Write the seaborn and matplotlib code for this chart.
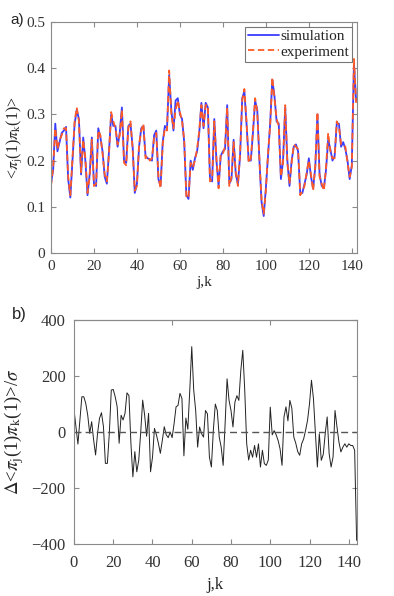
import numpy as np
import pandas as pd
import matplotlib
matplotlib.use("Agg")
import matplotlib.pyplot as plt
import seaborn as sns

# ---------------- data ----------------
sim_a = [0.15, 0.18, 0.28, 0.22, 0.24, 0.26, 0.265, 0.273, 0.16, 0.12,
         0.20, 0.28, 0.31, 0.29, 0.17, 0.25, 0.20, 0.125, 0.17, 0.25,
         0.15, 0.145, 0.27, 0.25, 0.22, 0.165, 0.15, 0.22, 0.30, 0.275,
         0.275, 0.23, 0.26, 0.315, 0.20, 0.195, 0.275, 0.28, 0.23, 0.13,
         0.15, 0.23, 0.27, 0.275, 0.21, 0.205, 0.203, 0.20, 0.255, 0.265,
         0.16, 0.145, 0.24, 0.275, 0.27, 0.385, 0.31, 0.265, 0.33, 0.335,
         0.30, 0.29, 0.24, 0.125, 0.117, 0.20, 0.18, 0.205, 0.22, 0.26,
         0.325, 0.27, 0.325, 0.315, 0.16, 0.155, 0.29, 0.20, 0.145, 0.21,
         0.22, 0.225, 0.32, 0.15, 0.16, 0.245, 0.17, 0.15, 0.21, 0.335,
         0.35, 0.28, 0.20, 0.20, 0.26, 0.33, 0.31, 0.20, 0.11, 0.08,
         0.14, 0.21, 0.28, 0.375, 0.34, 0.285, 0.28, 0.16, 0.20, 0.315,
         0.20, 0.145, 0.20, 0.23, 0.235, 0.22, 0.13, 0.13, 0.15, 0.17,
         0.205, 0.165, 0.14, 0.185, 0.30, 0.17, 0.145, 0.14, 0.18, 0.245,
         0.225, 0.20, 0.21, 0.28, 0.28, 0.23, 0.24, 0.225, 0.20, 0.16,
         0.19, 0.41, 0.33]
exp_a = [0.145, 0.185, 0.27, 0.225, 0.245, 0.255, 0.27, 0.27, 0.165, 0.125,
         0.205, 0.285, 0.315, 0.285, 0.175, 0.245, 0.205, 0.13, 0.165, 0.245,
         0.145, 0.15, 0.265, 0.255, 0.215, 0.17, 0.155, 0.215, 0.305, 0.285,
         0.27, 0.235, 0.255, 0.31, 0.195, 0.19, 0.27, 0.285, 0.225, 0.135,
         0.145, 0.235, 0.265, 0.28, 0.205, 0.21, 0.20, 0.205, 0.25, 0.26,
         0.165, 0.14, 0.235, 0.27, 0.265, 0.395, 0.30, 0.27, 0.31, 0.33,
         0.305, 0.285, 0.245, 0.12, 0.12, 0.195, 0.185, 0.20, 0.225, 0.265,
         0.32, 0.275, 0.32, 0.32, 0.155, 0.16, 0.285, 0.205, 0.14, 0.215,
         0.215, 0.23, 0.315, 0.145, 0.165, 0.24, 0.175, 0.145, 0.215, 0.33,
         0.355, 0.285, 0.195, 0.205, 0.265, 0.335, 0.305, 0.205, 0.115, 0.085,
         0.135, 0.215, 0.275, 0.38, 0.335, 0.29, 0.275, 0.165, 0.195, 0.32,
         0.195, 0.15, 0.195, 0.235, 0.23, 0.225, 0.125, 0.135, 0.145, 0.175,
         0.20, 0.17, 0.135, 0.19, 0.305, 0.165, 0.15, 0.135, 0.185, 0.26,
         0.22, 0.205, 0.205, 0.285, 0.275, 0.235, 0.235, 0.23, 0.195, 0.165,
         0.185, 0.42, 0.325]

dev_b = [80, 20, -43, 43, 126, 126, 102, 60, -5, 37,
         -28, -82, -5, 49, 69, 20, -112, -112, -5, 150,
         152, 126, 90, -40, 60, 43, 67, 140, 130, -40,
         -160, -70, -142, -100, 0, 114, 60, -15, 67, -142,
         -90, 13, -10, -40, -76, -30, 19, -10, -20, 0,
         -20, 30, 90, 95, 138, 120, -85, 50, 10, 150,
         305, 150, 77, -54, 18, -6, -18, 77, 65, -90,
         -125, 6, 100, 77, -18, -54, -119, 30, 190, 113,
         77, 18, 107, 130, 113, 220, 292, 149, -42, -100,
         -65, -90, -48, -90, -42, -125, -65, -113, -119, -100,
         89, -10, 5, -10, -30, -60, -119, 54, 90, 40,
         113, 85, -18, -40, -70, -83, -42, -25, 6, 42,
         101, 185, 120, 0, -125, -6, -101, -80, -6, 54,
         -77, -125, -89, 77, 18, -36, -71, -54, -42, -54,
         -42, -48, -48, -65, -387]

jk_a = list(range(len(sim_a)))
jk_b = list(range(len(dev_b)))

df_a = pd.DataFrame({"jk": jk_a + jk_a,
                     "val": sim_a + exp_a,
                     "series": ["simulation"] * len(sim_a) + ["experiment"] * len(exp_a)})
df_b = pd.DataFrame({"jk": jk_b, "val": dev_b})

# ---------------- style ----------------
sns.set_style("ticks")
plt.rcParams["font.family"] = ["Liberation Serif", "DejaVu Serif"]
plt.rcParams["mathtext.fontset"] = "stix"
spine_col = "#8a8a8a"

fig = plt.figure(figsize=(3.94, 5.96), dpi=100)
ax1 = fig.add_axes([0.1294, 0.5755, 0.7766, 0.3876])
ax2 = fig.add_axes([0.1878, 0.0872, 0.7183, 0.3758])

# ---- panel a ----
sns.lineplot(data=df_a, x="jk", y="val", hue="series", style="series",
             palette={"simulation": "#3a3cff", "experiment": "#ff5a26"},
             dashes={"simulation": "", "experiment": (3.5, 2)},
             linewidth=1.3, ax=ax1, legend=True)
ax1.set_xlim(0, 142.4)
ax1.set_ylim(0, 0.5)
ax1.set_xticks([0, 20, 40, 60, 80, 100, 120, 140])
ax1.set_yticks([0, 0.1, 0.2, 0.3, 0.4, 0.5])
ax1.set_yticklabels(["0", "0.1", "0.2", "0.3", "0.4", "0.5"])
ax1.set_xlabel("j,k", fontsize=11, labelpad=2)
ax1.set_ylabel(r"<$\pi_{\rm j}$(1)$\pi_{\rm k}$(1)>", fontsize=11.5, labelpad=1)
ax1.tick_params(direction="in", top=True, right=True, length=3.5,
                color=spine_col, labelsize=11, labelcolor="#333333")
ax1.tick_params(axis="x", pad=5)
ax1.tick_params(axis="y", pad=4)
leg = ax1.legend(loc="upper right", fontsize=11, frameon=True, fancybox=False,
                 borderpad=0.2, handlelength=2.0, handletextpad=0.1,
                 labelspacing=0.1, borderaxespad=0.3)
leg.get_frame().set_edgecolor("#555555")
leg.get_frame().set_linewidth(0.8)

# ---- panel b ----
sns.lineplot(data=df_b, x="jk", y="val", color="#222222", linewidth=0.7, ax=ax2)
ax2.axhline(0, color="#555555", linestyle=(0, (5, 3)), linewidth=1.0)
ax2.set_xlim(0, 144.2)
ax2.set_ylim(-400, 400)
ax2.set_xticks([0, 20, 40, 60, 80, 100, 120, 140])
ax2.set_yticks([-400, -200, 0, 200, 400])
ax2.set_xlabel("j,k", fontsize=12, labelpad=4)
ax2.set_ylabel(r"$\Delta$<$\pi_{\rm j}$(1)$\pi_{\rm k}$(1)>/$\sigma$", fontsize=13.5, labelpad=4)
ax2.tick_params(direction="in", right=True, length=3.5, color=spine_col,
                labelsize=12, labelcolor="#333333")
ax2.tick_params(axis="x", pad=8)
ax2.tick_params(axis="y", pad=6)
top = ax2.secondary_xaxis("top")
top.set_xticks([50, 100])
top.tick_params(direction="in", length=3.5, color=spine_col, labeltop=False)
top.spines["top"].set_color(spine_col)

for ax in (ax1, ax2):
    for s in ax.spines.values():
        s.set_color(spine_col)
        s.set_linewidth(0.8)
        s.set_visible(True)

fig.text(0.043, 0.966, "a)", fontsize=11, family=["Liberation Sans", "DejaVu Sans"],
         ha="center", va="center")
fig.text(0.048, 0.472, "b)", fontsize=12, family=["Liberation Sans", "DejaVu Sans"],
         ha="center", va="center")

fig.savefig("out.png", dpi=100)
